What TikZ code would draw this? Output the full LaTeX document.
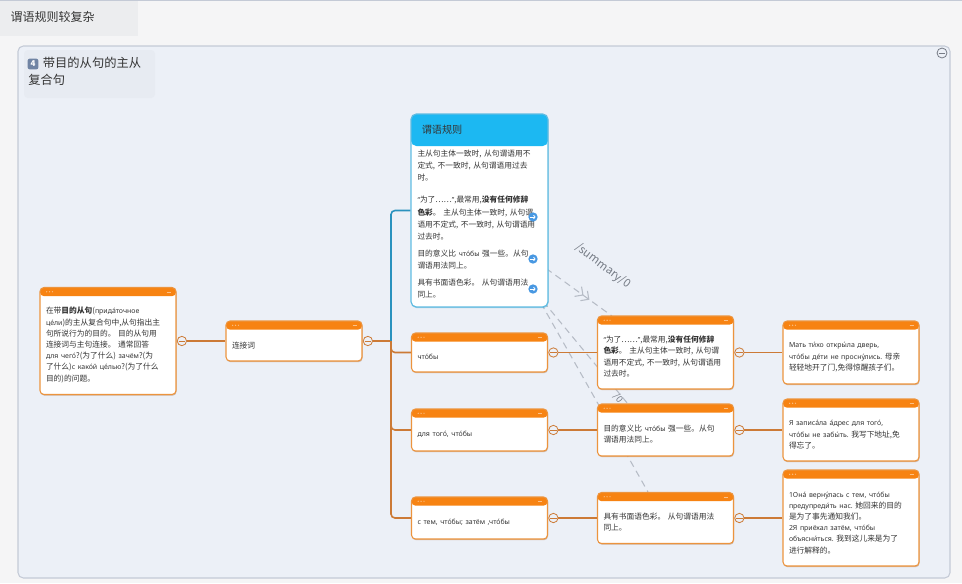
\documentclass[tikz,border=0pt]{standalone}
\usepackage{fontspec}
\setmainfont{Noto Sans CJK SC}
\newfontfamily\rusfont[Scale=0.9]{Noto Sans}
\newcommand{\rutxt}[1]{{\rusfont #1}}
\usetikzlibrary{arrows.meta,calc,positioning,shadows,decorations.markings}
\pgfdeclarelayer{back}
\pgfdeclarelayer{dashes}
\pgfsetlayers{back,dashes,main}

\definecolor{hdrorange}{RGB}{247,131,18}
\definecolor{boxedge}{RGB}{236,148,62}
\definecolor{lineorange}{RGB}{204,122,54}
\definecolor{shadowbrown}{RGB}{170,110,60}
\definecolor{hdrblue}{RGB}{28,184,242}
\definecolor{blueedge}{RGB}{96,188,226}
\definecolor{lineblue}{RGB}{42,146,190}
\definecolor{iconblue}{RGB}{72,152,226}
\definecolor{pagebg}{RGB}{245,245,246}
\definecolor{tabgray}{RGB}{236,237,239}
\definecolor{panelbg}{RGB}{236,240,247}
\definecolor{paneledge}{RGB}{196,202,214}
\definecolor{titlebg}{RGB}{231,235,242}
\definecolor{inkgray}{RGB}{52,52,52}
\definecolor{dashgray}{RGB}{182,188,198}
\definecolor{notegray}{RGB}{118,124,134}
\definecolor{badgeblue}{RGB}{112,132,164}

\tikzset{
  topic/.style={draw=boxedge, line width=0.8pt, fill=white, rounded corners=3pt,
    minimum width=102pt, text width=93pt, inner xsep=4.5pt, inner ysep=3pt, align=left,
    font=\fontsize{5.8}{8.4}\selectfont, text=inkgray,
    drop shadow={shadow xshift=0.4pt, shadow yshift=-0.9pt, opacity=0.45, fill=shadowbrown},
    path picture={
      \fill[hdrorange] (path picture bounding box.north west) rectangle ([yshift=-6.5pt]path picture bounding box.north east);
      \foreach \d in {0,1,2}
        \fill[white, opacity=0.5] ([xshift=5pt+\d*2.2pt, yshift=-3.2pt]path picture bounding box.north west) circle (0.5pt);
      \draw[white, opacity=0.5, line width=0.4pt] ([xshift=-7pt, yshift=-3.2pt]path picture bounding box.north east) -- ([xshift=-4pt, yshift=-3.2pt]path picture bounding box.north east);
    },
    execute at begin node={\rule{0pt}{11pt}}},
  rulebox/.style={draw=blueedge, line width=0.9pt, fill=white, rounded corners=4pt,
    minimum width=102.75pt, minimum height=144.75pt, text width=93pt, inner xsep=4.5pt, inner ysep=3pt, align=left,
    font=\fontsize{5.8}{9.3}\selectfont, text=inkgray,
    drop shadow={shadow xshift=0.4pt, shadow yshift=-0.9pt, opacity=0.4, fill=lineblue},
    path picture={\fill[hdrblue] (path picture bounding box.north west) rectangle ([yshift=-24pt]path picture bounding box.north east);},
    execute at begin node={\rule{0pt}{25pt}}},
  link/.style={draw=lineorange, line width=1.2pt},
  bluelink/.style={draw=lineblue, line width=1.2pt},
  knob/.style={circle, draw=lineorange, fill=panelbg, line width=0.6pt, minimum size=7pt, inner sep=0pt,
    path picture={\draw[lineorange, line width=0.5pt] ([xshift=1pt]path picture bounding box.west) -- ([xshift=-1pt]path picture bounding box.east);}},
  jumpicon/.style={circle, fill=iconblue, minimum size=7pt, inner sep=0pt,
    path picture={\draw[white, line width=0.6pt, -{Straight Barb[length=1.2pt, width=2.6pt]}] ([xshift=1.5pt]path picture bounding box.west) -- ([xshift=-1.5pt]path picture bounding box.east);}},
  jump/.style={draw=dashgray, line width=0.8pt, dash pattern=on 5pt off 3.5pt},
}

\begin{document}
\begin{tikzpicture}[x=0.75pt, y=-0.75pt]
\useasboundingbox (0,0) rectangle (962,583);

% page, tab and panel
\begin{pgfonlayer}{back}
\fill[pagebg] (0,0) rectangle (962,583);
\draw[paneledge, line width=0.8pt] (0,0.5) -- (962,0.5);
\fill[tabgray] (0,1) rectangle (138,36);
\draw[paneledge, fill=panelbg, rounded corners=4pt, line width=0.8pt] (18,46) rectangle (950,578);
\fill[titlebg, rounded corners=3pt] (24,50) rectangle (155,98);
\end{pgfonlayer}

\node[anchor=west, font=\fontsize{9}{11}\selectfont, text=inkgray] (tabtitle) at (6,17) {谓语规则较复杂};
\node[circle, draw=notegray, fill=panelbg, line width=0.6pt, minimum size=7.5pt, inner sep=0pt,
  path picture={\draw[notegray, line width=0.6pt] ([xshift=1.2pt]path picture bounding box.west) -- ([xshift=-1.2pt]path picture bounding box.east);}] (collapse) at (942,53) {};

% map title
\node[anchor=north west, align=left, inner sep=0pt, font=\fontsize{9.2}{12.8}\selectfont, text=inkgray] (maptitle) at (28,57) {\hspace{11pt}带目的从句的主从\\复合句};
\node[fill=badgeblue, rounded corners=1.5pt, minimum size=8pt, inner sep=0pt, text=white, font=\fontsize{6}{6}\selectfont\bfseries] (badge) at (33,64) {4};

% topics
\node[topic, minimum height=80.25pt] (root) at (108,341) {在带\textbf{目的从句}(\rutxt{прида́точное}\\
  \rutxt{це́ли})的主从复合句中,从句指出主\\
  句所说行为的目的。 目的从句用\\
  连接词与主句连接。 通常回答\\
  \textbf{\rutxt{для чего́}}?(为了什么) \rutxt{зачём}?(为\\
  了什么)\rutxt{с како́й це́лью}?(为了什么\\
  目的)的问题。};
\node[topic, minimum height=30pt] (conn) at (294,341) {连接词};

\node[rulebox] (rules) at (479.5,210.5) {主从句主体一致时, 从句谓语用不\\
  定式, 不一致时, 从句谓语用过去\\
  时。\\[7pt]
  \rutxt{“}为了……\rutxt{”},最常用,\textbf{没有任何修辞}\\
  \textbf{色彩}。 主从句主体一致时, 从句谓\\
  语用不定式, 不一致时, 从句谓语用\\
  过去时。\\[3pt]
  目的意义比 \rutxt{что́бы} 强一些。从句\\
  谓语用法同上。\\[3pt]
  具有书面语色彩。 从句谓语用法\\
  同上。};
\node[anchor=west, font=\fontsize{7.6}{9}\selectfont, text=inkgray] (rulestitle) at ([xshift=5pt, yshift=-12pt]rules.north west) {谓语规则};

\node[topic, minimum height=29.25pt] (chtoby) at (479.5,352.5) {\rutxt{что́бы}};
\node[topic, minimum height=31.5pt] (dlya) at (479.5,430) {\rutxt{для того́, что́бы}};
\node[topic, minimum height=31.5pt] (stem) at (479.5,518) {\rutxt{с тем, что́бы; затём ,что́бы}};

\node[topic, minimum height=54.75pt] (use1) at (665.5,352.5) {\rutxt{“}为了……\rutxt{”},最常用,\textbf{没有任何修辞}\\
  \textbf{色彩}。 主从句主体一致时, 从句谓\\
  语用不定式, 不一致时, 从句谓语用\\
  过去时。};
\node[topic, minimum height=39pt] (use2) at (665.5,430) {目的意义比 \rutxt{что́бы} 强一些。从句\\
  谓语用法同上。};
\node[topic, minimum height=38.25pt] (use3) at (665.5,518) {具有书面语色彩。 从句谓语用法\\
  同上。};

\node[topic, minimum height=47.25pt] (ex1) at (851,352.5) {\rutxt{Мать ти́хо откры́ла дверь,}\\
  \rutxt{что́бы де́ти не просну́лись.}~母亲\\
  轻轻地开了门,免得惊醒孩子们。};
\node[topic, minimum height=46.5pt] (ex2) at (851,430) {\rutxt{Я записа́ла а́дрес для того́,}\\
  \rutxt{что́бы не забы́ть.}~我写下地址,免\\
  得忘了。};
\node[topic, minimum height=72pt] (ex3) at (851,518) {\rutxt{1Она́ верну́лась с тем, что́бы}\\
  \rutxt{предупреди́ть нас.}~她回来的目的\\
  是为了事先通知我们。\\
  \rutxt{2Я приёхал затём, что́бы}\\
  \rutxt{объясни́ться.}~我到这儿来是为了\\
  进行解释的。};

% collapse knobs
\node[knob] (k-root) at ([xshift=4pt]root.east) {};
\node[knob] (k-conn) at ([xshift=4pt]conn.east) {};
\node[knob] (k-chtoby) at ([xshift=4pt]chtoby.east) {};
\node[knob] (k-dlya) at ([xshift=4pt]dlya.east) {};
\node[knob] (k-stem) at ([xshift=4pt]stem.east) {};
\node[knob] (k-use1) at ([xshift=4pt]use1.east) {};
\node[knob] (k-use2) at ([xshift=4pt]use2.east) {};
\node[knob] (k-use3) at ([xshift=4pt]use3.east) {};

% branches
\coordinate (fork) at (391,341);
\draw[link] (k-root) -- (conn);
\draw[link] (k-conn) -- (fork);
\draw[bluelink, rounded corners=3pt] (fork) |- (rules);
\draw[link, rounded corners=3pt] (fork) |- (chtoby);
\draw[link, rounded corners=3pt] (fork) |- (dlya);
\draw[link, rounded corners=3pt] (fork) |- (stem);
\draw[link] (k-chtoby) -- (use1);
\draw[link] (k-dlya) -- (use2);
\draw[link] (k-stem) -- (use3);
\draw[link] (k-use1) -- (ex1);
\draw[link] (k-use2) -- (ex2);
\draw[link] (k-use3) -- (ex3);

% summary jumps
\node[jumpicon] (jump1) at (533,217) {};
\node[jumpicon] (jump2) at (533,259) {};
\node[jumpicon] (jump3) at (533,289) {};
\coordinate (hit1) at (612,316);
\coordinate (hit2) at (628,404);
\coordinate (hit3) at (648,492);
\begin{pgfonlayer}{dashes}
\draw[jump, postaction={decorate}, decoration={markings, mark=at position 0.7 with {\arrow[solid, line width=0.8pt]{Straight Barb[length=4.5pt, width=9pt] Straight Barb[length=4.5pt, width=9pt]}}}] (jump2) -- (hit1);
\draw[jump] (jump3) -- (hit2);
\draw[jump] (jump3) -- (hit3);
\node[rotate=-37, font=\fontsize{8.5}{10}\selectfont, text=notegray] (sumlabel) at (603,266) {/summary/0};
\node[rotate=-52, font=\fontsize{7}{8}\selectfont, text=notegray] (sumlabel2) at (618,398) {/0};
\end{pgfonlayer}
\end{tikzpicture}
\end{document}
